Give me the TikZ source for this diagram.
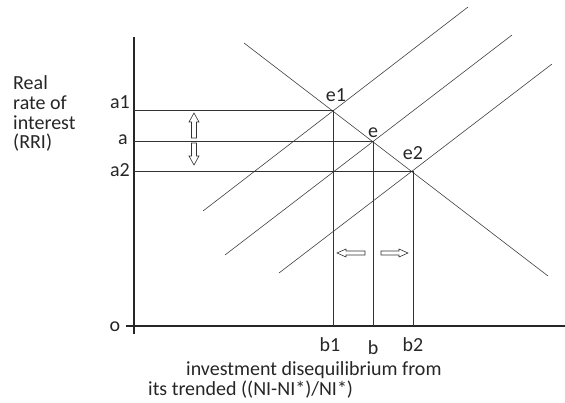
\documentclass[tikz,border=0pt]{standalone}
\usepackage{fontspec}
\setmainfont{Carlito}
\begin{document}
\begin{tikzpicture}[x=1pt,y=-1pt,
  axis/.style={line width=1.4pt,black!85},
  guide/.style={line width=0.9pt,black!80},
  curve/.style={line width=0.6pt,black!75},
  lbl/.style={font=\fontsize{20}{20}\selectfont,inner sep=0pt,text=black!85},
  blk/.style={draw=black!80,line width=0.6pt,fill=white}]
\useasboundingbox (0,0) rectangle (565,403);
% axes
\coordinate (ytop) at (134,37);
\coordinate (ybot) at (134,334);
\coordinate (xl) at (126,326);
\coordinate (xr) at (565,326);
\draw[axis] (ytop) -- (ybot);
\draw[axis] (xl) -- (xr);
% points
\coordinate (e1) at (333,110);
\coordinate (e) at (373,141);
\coordinate (e2) at (413,171);
\coordinate (ya1) at (134,110);
\coordinate (ya) at (134,141);
\coordinate (ya2) at (134,171);
\coordinate (xb1) at (333,326);
\coordinate (xb) at (373,326);
\coordinate (xb2) at (413,326);
% demand line
\coordinate (d1) at (244,43);
\coordinate (d2) at (548,276);
\draw[curve] (d1) -- (d2);
% supply lines
\coordinate (s1a) at (203,211); \coordinate (s1b) at (468,7);
\coordinate (s2a) at (225,255); \coordinate (s2b) at (512,35);
\coordinate (s3a) at (279,273); \coordinate (s3b) at (552,64);
\draw[curve] (s1a) -- (s1b);
\draw[curve] (s2a) -- (s2b);
\draw[curve] (s3a) -- (s3b);
% guides
\draw[guide] (ya1) -- (e1) -- (xb1);
\draw[guide] (ya) -- (e) -- (xb);
\draw[guide] (ya2) -- (e2) -- (xb2);
% block arrows
\draw[blk] (194,113) -- (199,122) -- (196.5,122) -- (196.5,138) -- (191.5,138) -- (191.5,122) -- (189,122) -- cycle;
\draw[blk] (194,165) -- (199,156) -- (196.5,156) -- (196.5,143) -- (191.5,143) -- (191.5,156) -- (189,156) -- cycle;
\draw[blk] (337,253) -- (346,249) -- (346,251) -- (365,251) -- (365,255) -- (346,255) -- (346,257) -- cycle;
\draw[blk] (408,253) -- (399,249) -- (399,251) -- (381,251) -- (381,255) -- (399,255) -- (399,257) -- cycle;
% labels
\node[lbl,anchor=west] (t1) at (13,83) {Real};
\node[lbl,anchor=west] (t2) at (13,103) {rate of};
\node[lbl,anchor=west] (t3) at (13,123) {interest};
\node[lbl,anchor=west] (t4) at (13,143) {(RRI)};
\node[lbl] (la1) at (120,102) {a1};
\node[lbl] (la) at (123,140) {a};
\node[lbl] (la2) at (120,170) {a2};
\node[lbl] (lo) at (115,327) {o};
\node[lbl] (lb1) at (330,345) {b1};
\node[lbl] (lb) at (373,348) {b};
\node[lbl] (lb2) at (413,345) {b2};
\node[lbl] (le1) at (336,95) {e1};
\node[lbl] (le) at (373,133) {e};
\node[lbl] (le2) at (413,153) {e2};
\node[lbl,anchor=west] (x1) at (186,370) {investment disequilibrium from};
\node[lbl,anchor=west] (x2) at (148,390) {its trended ((NI-NI*)/NI*)};
\end{tikzpicture}
\end{document}
